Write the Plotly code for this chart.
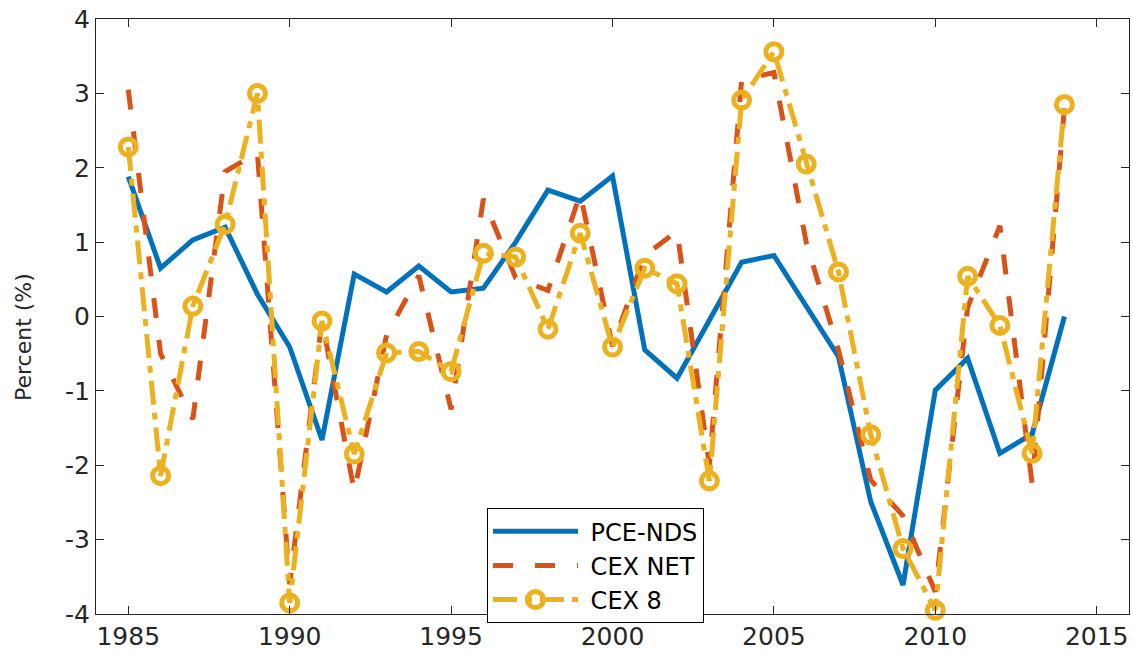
import plotly.graph_objects as go

years = list(range(1985, 2015))

pce_nds = [1.88, 0.65, 1.03, 1.20, 0.30, -0.41, -1.66, 0.57, 0.33, 0.68,
           0.33, 0.38, 1.00, 1.70, 1.55, 1.89, -0.45, -0.83, -0.05, 0.73,
           0.82, 0.14, -0.54, -2.49, -3.61, -0.99, -0.56, -1.84, -1.58, 0.00]

cex_net = [3.05, -0.50, -1.38, 1.95, 2.20, -3.60, -0.05, -2.35, -0.25, 0.55,
           -1.25, 1.58, 0.52, 0.35, 1.65, -0.40, 0.82, 1.15, -2.00, 3.18,
           3.28, 1.00, -0.45, -2.20, -2.68, -3.70, 0.12, 1.22, -2.25, 2.80]

cex_8 = [2.28, -2.14, 0.14, 1.24, 3.00, -3.85, -0.06, -1.85, -0.49, -0.47,
         -0.74, 0.85, 0.80, -0.17, 1.12, -0.41, 0.65, 0.44, -2.21, 2.91,
         3.56, 2.05, 0.60, -1.59, -3.12, -3.95, 0.54, -0.12, -1.84, 2.85]

x_ticks = [1985, 1990, 1995, 2000, 2005, 2010, 2015]
y_ticks = [-4, -3, -2, -1, 0, 1, 2, 3, 4]
series_names = ["PCE-NDS", "CEX NET", "CEX 8"]
y_title = "Percent (%)"

BLUE = "#0072BD"
RED = "#D95319"
YELLOW = "#EDB120"
AX = "#262626"
FONT = "DejaVu Sans"

fig = go.Figure()
fig.add_trace(go.Scatter(
    x=years, y=pce_nds, name=" " + series_names[0], mode="lines",
    line=dict(color=BLUE, width=5)))
fig.add_trace(go.Scatter(
    x=years, y=cex_net, name=" " + series_names[1], mode="lines",
    line=dict(color=RED, width=5, dash="20px,22px")))
fig.add_trace(go.Scatter(
    x=years, y=cex_8, name=" " + series_names[2], mode="lines+markers",
    line=dict(color=YELLOW, width=5, dash="24px,8px,7px,8px"),
    marker=dict(symbol="circle-open", size=16, color=YELLOW,
                line=dict(color=YELLOW, width=5)),
    cliponaxis=False))

axis_common = dict(
    showgrid=False, zeroline=False, showline=True, linecolor=AX, linewidth=1,
    mirror="ticks", ticks="inside", ticklen=8, tickcolor=AX, tickwidth=1,
    tickfont=dict(family=FONT, size=25, color=AX))

fig.update_xaxes(range=[1984, 2016], tickvals=x_ticks,
                 ticktext=[str(v) for v in x_ticks], **axis_common)
fig.update_yaxes(range=[-4, 4], tickvals=y_ticks,
                 ticktext=[str(v) for v in y_ticks], **axis_common)

fig.add_annotation(
    text=y_title, textangle=-90, showarrow=False,
    xref="paper", yref="paper", x=-0.0707, y=0.4655,
    xanchor="center", yanchor="middle",
    font=dict(family=FONT, size=22, color=AX))

fig.update_layout(
    width=1133, height=654,
    margin=dict(l=96, r=4, t=19, b=40),
    paper_bgcolor="white", plot_bgcolor="white",
    font=dict(family=FONT, color=AX),
    legend=dict(x=0.3785, y=0.178, xanchor="left", yanchor="top",
                bordercolor="#000000", borderwidth=1, bgcolor="white",
                font=dict(family=FONT, size=24, color="#000000"),
                itemwidth=85, tracegroupgap=0),
    showlegend=True,
)

fig.write_html("out.html")
